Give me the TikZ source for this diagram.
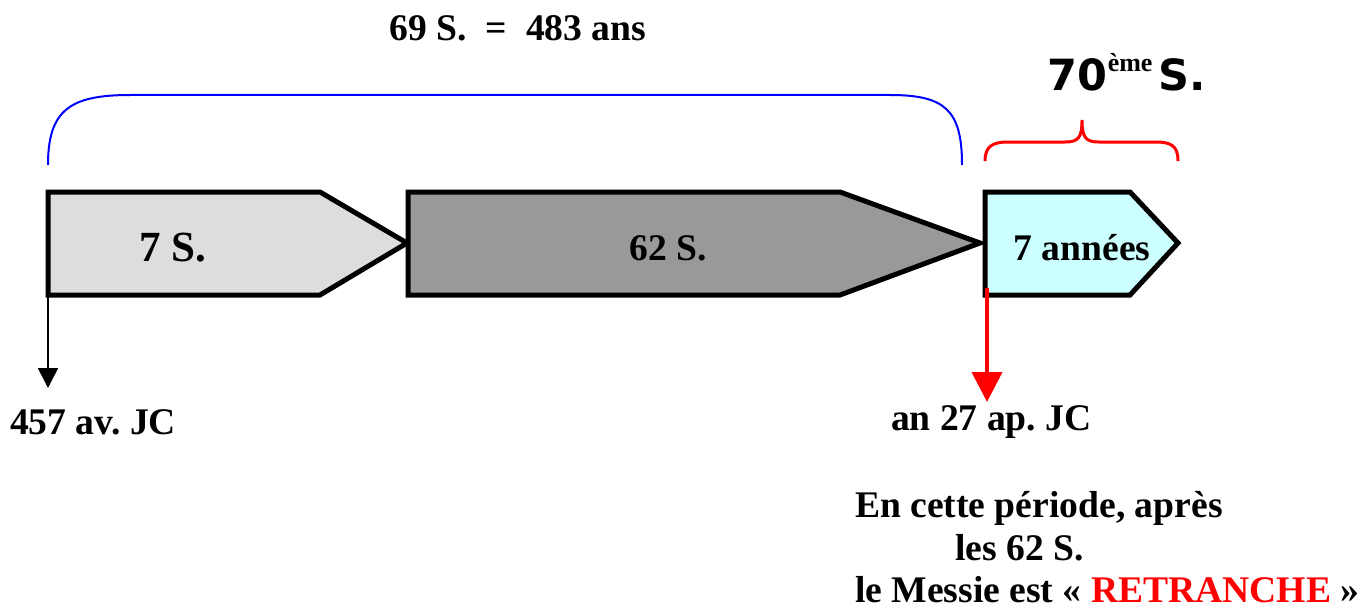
\documentclass[tikz,border=0pt]{standalone}
\usepackage{fontspec}
\setmainfont{Liberation Serif}
\newfontfamily\titlefont{DejaVu Sans}
\usetikzlibrary{arrows.meta}
\definecolor{lightgrey}{RGB}{221,221,221}
\definecolor{midgrey}{RGB}{153,153,153}
\definecolor{lightcyan}{RGB}{204,255,255}
\frenchspacing

\begin{document}
\begin{tikzpicture}[x=0.5pt, y=-0.5pt, font=\fontsize{18.8}{20}\selectfont\bfseries]
                \useasboundingbox (0,0) rectangle (1368,610);
                % Blocks
                \draw[line width=2.5pt, fill=lightgrey, line join=miter] (48,192) -- (320,192) -- (407,243) -- (320,295) -- (48,295) -- cycle;
                \draw[line width=2.5pt, fill=midgrey, line join=miter] (408,192) -- (840,192) -- (980,243) -- (840,295) -- (408,295) -- cycle;
                \draw[line width=2.5pt, fill=lightcyan, line join=miter] (985,192) -- (1130,192) -- (1178,243) -- (1130,295) -- (985,295) -- cycle;
                
                % Nodes
                \node (sept) at (173,248) {\fontsize{21.5}{22}\selectfont 7 S.};
                \node (soixdeux) at (668,248) {62 S.};
                \node (annees) at (1082,248) {7 années};
                \node (total) at (518,28) {69 S.\ \ =\ \ 483 ans};
                \node (soixdix) at (1127,72) {{\titlefont\fontsize{21.5}{22}\selectfont 70}\raisebox{1.1ex}{\fontsize{13}{13}\selectfont ème}\,{\titlefont\fontsize{21.5}{22}\selectfont S.}};
                \node[anchor=west] (debut) at (3,422) {457 av. JC};
                \node[anchor=west] (fin) at (884,422) {an 27 ap. JC};
                \node[anchor=west] (ligne1) at (848,508) {En cette période, après};
                \node[anchor=west] (ligne2) at (948,548) {les 62 S.};
                \node[anchor=west] (ligne3) at (848,590) {le Messie est « \textcolor{red}{RETRANCHE} »};
                \coordinate (coin1) at (48,295);
                \coordinate (pointe1) at (48,388);
                \coordinate (coin3) at (987,288);
                \coordinate (pointe3) at (987,402);
                
                % Brackets
                \draw[blue, line width=1pt] (48,165) .. controls (48,110) and (70,95) .. (130,95) -- (890,95) .. controls (945,95) and (962,110) .. (962,165);
                \draw[red, line width=1.5pt] (985,161) .. controls (985,146) and (993,142) .. (1008,142) -- (1065,142) .. controls (1078,142) and (1082,138) .. (1082,120) .. controls (1082,138) and (1086,142) .. (1099,142) -- (1156,142) .. controls (1171,142) and (1178,146) .. (1178,161);
                
                % Edges
                \draw[line width=0.8pt, -{Triangle[width=10pt, length=10pt]}] (coin1) -- (pointe1);
                \draw[red, line width=2pt, -{Triangle[width=15pt, length=15pt]}] (coin3) -- (pointe3);
            \end{tikzpicture}
\end{document}
